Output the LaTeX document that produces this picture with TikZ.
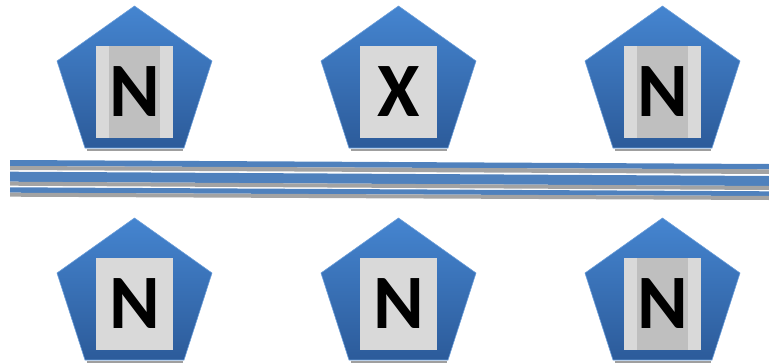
\documentclass[tikz,border=0pt]{standalone}
\usepackage{fontspec}
\setmainfont{Carlito}
\definecolor{pentop}{HTML}{4585D0}
\definecolor{penbot}{HTML}{2C5B9A}
\definecolor{barblue}{HTML}{4F81BD}
\definecolor{bargray}{HTML}{A3A3A3}
\definecolor{sqlight}{HTML}{D9D9D9}
\definecolor{sqdark}{HTML}{BFBFBF}
\begin{document}
\begin{tikzpicture}[x=1pt,y=-1pt,
  sqbox/.style={rectangle,fill=sqlight,minimum width=77pt,minimum height=92pt,inner sep=0pt},
  letter/.style={font=\fontsize{77}{77}\selectfont\bfseries},
  strip/.style={fill=sqdark},
  pentfill/.style={top color=pentop,bottom color=penbot,draw=pentop!80!white,line width=0.6pt},
  shadowline/.style={draw=gray!75,line width=2.5pt},
  bandblue/.style={fill=barblue},
  bandgray/.style={fill=bargray}]
\useasboundingbox (0,0) rectangle (769,364);
\foreach \cx/\ty in {134.5/6, 398.5/6, 662.5/6, 134.5/218, 398.5/218, 662.5/218}{
  \draw[shadowline] (\cx-48,\ty+144) -- (\cx+48,\ty+144);
  \path[pentfill] (\cx,\ty) -- (\cx+77.5,\ty+55) -- (\cx+49.5,\ty+142) -- (\cx-49.5,\ty+142) -- (\cx-77.5,\ty+55) -- cycle;
}
% squares
\node[sqbox] (tl) at (134.5,92) {};
\node[sqbox] (tm) at (398.5,92) {};
\node[sqbox] (tr) at (662.5,92) {};
\node[sqbox] (bl) at (134.5,304) {};
\node[sqbox] (bm) at (398.5,304) {};
\node[sqbox] (br) at (662.5,304) {};
\fill[strip] ([xshift=13.5pt]tl.north west) rectangle ([xshift=-13.5pt]tl.south east);
\fill[strip] ([xshift=13.5pt]tr.north west) rectangle ([xshift=-13.5pt]tr.south east);
\fill[strip] ([xshift=13.5pt]br.north west) rectangle ([xshift=-13.5pt]br.south east);
\node[letter] (ltl) at (tl.center) {N};
\node[letter] (ltm) at (tm.center) {X};
\node[letter] (ltr) at (tr.center) {N};
\node[letter] (lbl) at (bl.center) {N};
\node[letter] (lbm) at (bm.center) {N};
\node[letter] (lbr) at (br.center) {N};
% bars
\fill[bandblue] (10,160) -- (769,164) -- (769,169.3) -- (10,166) -- cycle;
\fill[bandgray] (10,166) -- (769,169.3) -- (769,174) -- (10,170) -- cycle;
\fill[bandblue] (10,171.7) -- (769,176) -- (769,186) -- (10,181.7) -- cycle;
\fill[bandgray] (10,181.7) -- (769,186) -- (769,190) -- (10,185.7) -- cycle;
\fill[bandblue] (10,187.3) -- (769,191.3) -- (769,196) -- (10,192.7) -- cycle;
\fill[bandgray] (10,192.7) -- (769,196) -- (769,200) -- (10,196.7) -- cycle;
\end{tikzpicture}
\end{document}
